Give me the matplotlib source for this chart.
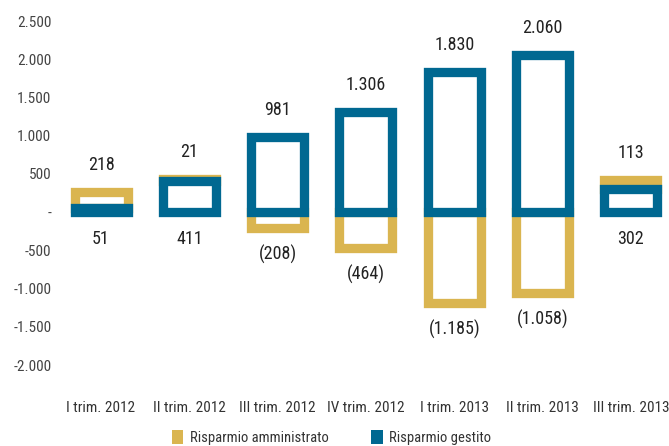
import matplotlib.pyplot as plt
from matplotlib import font_manager
from matplotlib.patches import Patch
from matplotlib.ticker import FuncFormatter

# pick a narrow sans if one is installed, otherwise squeeze Roboto a bit
candidates = ['Liberation Sans Narrow', 'Roboto Condensed', 'DejaVu Sans Condensed',
              'Noto Sans Condensed', 'Open Sans Condensed', 'Arial Narrow']
available = {f.name for f in font_manager.fontManager.ttflist}
narrow = next((n for n in candidates if n in available), None)
if narrow:
    plt.rcParams['font.family'] = [narrow, 'DejaVu Sans']
    scale = 1.0
else:
    plt.rcParams['font.family'] = ['Roboto', 'DejaVu Sans']
    scale = 0.9

quarters = ['I trim. 2012', 'II trim. 2012', 'III trim. 2012', 'IV trim. 2012',
            'I trim. 2013', 'II trim. 2013', 'III trim. 2013']
amministrato = [218, 21, -208, -464, -1185, -1058, 113]
gestito = [51, 411, 981, 1306, 1830, 2060, 302]

gold = '#DAB550'
blue = '#006891'


def fmt_num(v):
    s = f"{abs(v):,.0f}".replace(',', '.')
    return f"({s})" if v < 0 else s


fig = plt.figure(figsize=(6.69, 4.46), dpi=100)
ax = fig.add_axes([0.085, 0.1816, 0.924, 0.771])

x = range(len(quarters))
# amministrato sits on top of gestito when positive, below zero otherwise
gold_base = [g if a > 0 else 0 for a, g in zip(amministrato, gestito)]
ax.bar(x, amministrato, bottom=gold_base, width=0.6, facecolor='white',
       edgecolor=gold, linewidth=6.7, zorder=2)
ax.bar(x, gestito, width=0.6, facecolor='white',
       edgecolor=blue, linewidth=6.7, zorder=3)

for i, (a, g) in enumerate(zip(amministrato, gestito)):
    if a > 0:
        top, top_val = a + g, a
        bottom, bottom_val = 0, g
    else:
        top, top_val = g, g
        bottom, bottom_val = a, a
    ax.annotate(fmt_num(top_val), (i, top), xytext=(0, 19.5), textcoords='offset points',
                ha='center', va='center', fontsize=13 * scale, color='#222222')
    ax.annotate(fmt_num(bottom_val), (i, bottom), xytext=(0, -19), textcoords='offset points',
                ha='center', va='center', fontsize=13 * scale, color='#222222')

ax.set_ylim(-2000, 2500)
ax.set_xlim(-0.5, 6.5)
ax.set_yticks(range(-2000, 2501, 500))
ax.yaxis.set_major_formatter(FuncFormatter(lambda v, p: '-' if v == 0 else f"{v:,.0f}".replace(',', '.')))
ax.set_xticks(list(x))
ax.set_xticklabels(quarters)
ax.tick_params(axis='y', length=0, pad=4, labelsize=11 * scale, labelcolor='#444444')
ax.tick_params(axis='x', length=0, pad=26, labelsize=11 * scale ** 2, labelcolor='#333333')
for s in ax.spines.values():
    s.set_visible(False)

handles = [Patch(facecolor=gold, label='Risparmio amministrato'),
           Patch(facecolor=blue, label='Risparmio gestito')]
fig.legend(handles=handles, loc='center', bbox_to_anchor=(0.4955, 0.019), ncol=2,
           frameon=False, fontsize=10.5 * scale, handlelength=0.82, handleheight=1.05,
           handletextpad=0.42, columnspacing=2.95, labelcolor='#333333')

fig.savefig('out.png', dpi=100)
